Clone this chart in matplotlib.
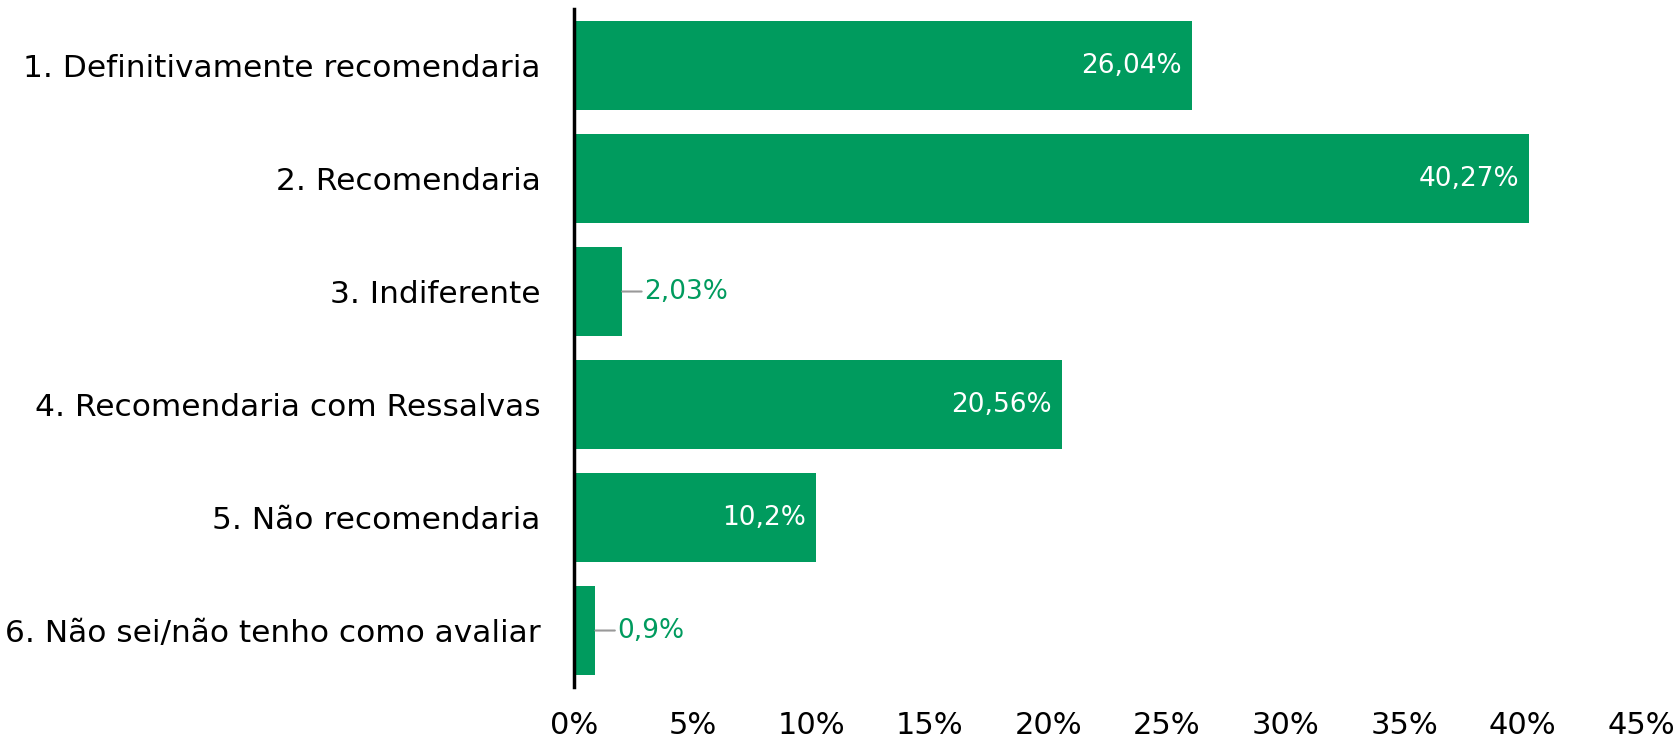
import matplotlib.pyplot as plt
import numpy as np

# data
categories = ["1. Definitivamente recomendaria", "2. Recomendaria", "3. Indiferente",
              "4. Recomendaria com Ressalvas", "5. Não recomendaria",
              "6. Não sei/não tenho como avaliar"]
values = [26.04, 40.27, 2.03, 20.56, 10.2, 0.9]
value_labels = ["26,04%", "40,27%", "2,03%", "20,56%", "10,2%", "0,9%"]
xticks = [0, 5, 10, 15, 20, 25, 30, 35, 40, 45]

green = "#009B5E"
plt.rcParams['font.family'] = ['DejaVu Sans']

fig = plt.figure(figsize=(16.8, 7.4), dpi=100)
ax = fig.add_axes([0.3417, 0.0716, 0.977 - 0.3417, 0.9878 - 0.0716])

y = np.arange(len(categories))
ax.barh(y, values, height=0.79, color=green, zorder=2)

ax.set_xlim(0, 45)
ax.set_ylim(len(categories) - 0.5, -0.5)
ax.set_yticks(y)
ax.set_yticklabels(categories, fontsize=22.5)
ax.set_xticks(xticks)
ax.set_xticklabels([f"{t}%" for t in xticks], fontsize=22)
ax.tick_params(axis='both', length=0)
ax.tick_params(axis='y', pad=24)
ax.tick_params(axis='x', pad=17)

for s in ['top', 'right', 'bottom']:
    ax.spines[s].set_visible(False)
ax.spines['left'].set_linewidth(2.5)
ax.spines['left'].set_color('black')
ax.spines['left'].set_zorder(3)

# value labels
for yi, v, lab in zip(y, values, value_labels):
    if v > 5:
        ax.annotate(lab, (v, yi), xytext=(-7, 0), textcoords='offset points',
                    ha='right', va='center', color='white', fontsize=19)
    else:
        ax.annotate(lab, (v, yi), xytext=(16, 0), textcoords='offset points',
                    ha='left', va='center', color=green, fontsize=19,
                    arrowprops=dict(arrowstyle='-', color='#999999', lw=1.5,
                                    shrinkA=0, shrinkB=0))

fig.savefig("out.png", dpi=100)
